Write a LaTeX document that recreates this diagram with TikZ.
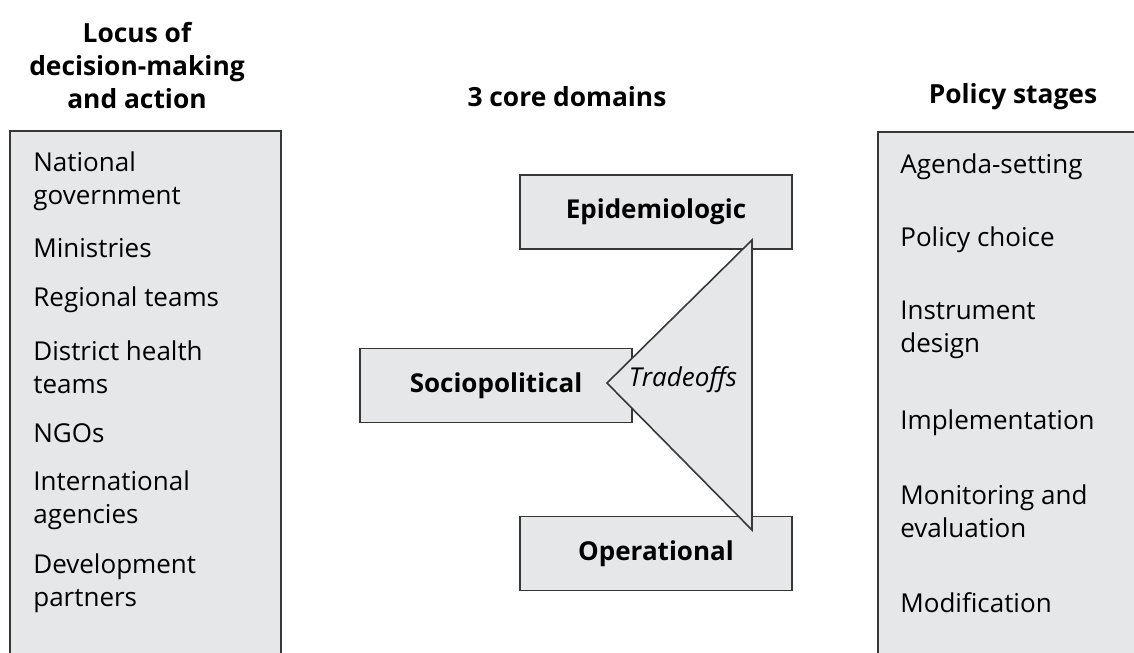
\documentclass[tikz,border=0pt]{standalone}
\usepackage{fontspec}
\setmainfont{Open Sans}
\usepackage{xcolor}
\usepackage{tikz}
\usetikzlibrary{positioning}

\definecolor{boxgray}{RGB}{230,231,232}
\definecolor{edgegray}{RGB}{55,55,55}

\begin{document}
\begin{tikzpicture}[
  x=0.02cm, y=-0.02cm,
  panel/.style={draw=edgegray, line width=0.9pt, fill=boxgray,
                anchor=north west, inner sep=0pt},
  domainbox/.style={draw=edgegray, line width=0.9pt, fill=boxgray,
                 minimum width=5.44cm, minimum height=1.48cm,
                 font=\fontsize{14.8}{17}\selectfont\bfseries},
  head/.style={font=\fontsize{15}{18.8}\selectfont\bfseries, align=center},
  item/.style={anchor=west, align=left, inner sep=0pt,
               font=\fontsize{14.8}{18.8}\selectfont},
]
  \useasboundingbox (0,0) rectangle (1134,653);
  \clip (0,0) rectangle (1134,653);

  % side panels (cut off by the page edge)
  \node[panel, minimum width=5.42cm, minimum height=12cm] (locus) at (9,130) {};
  \node[panel, minimum width=6cm, minimum height=12cm] (stages) at (877,131) {};

  % headings
  \node[head] (locushead) at (137,66) {Locus of\\decision-making\\and action};
  \node[head] (corehead) at (567,97) {3 core domains};
  \node[head] (stagehead) at (1013,97) {Policy stages};

  % locus of decision-making
  \node[item] (natgov) at (33,181.5) {National\\government};
  \node[item] (ministries) at (33,248) {Ministries};
  \node[item] (regional) at (33,300) {Regional teams};
  \node[item] (district) at (33,367.5) {District health\\teams};
  \node[item] (ngos) at (33,433) {NGOs};
  \node[item] (intl) at (33,500) {International\\agencies};
  \node[item] (devpart) at (33,583.5) {Development\\partners};

  % policy stages
  \node[item] (agenda) at (900,167) {Agenda-setting};
  \node[item] (choice) at (900,240) {Policy choice};
  \node[item] (instr) at (900,330) {Instrument\\design};
  \node[item] (implement) at (900,423) {Implementation};
  \node[item] (monitor) at (900,511.5) {Monitoring and\\evaluation};
  \node[item] (modify) at (900,603) {Modification};

  % core domains
  \node[domainbox] (epi) at (656,212) {Epidemiologic};
  \node[domainbox] (socio) at (496,385.5) {Sociopolitical};
  \node[domainbox] (oper) at (656,553.5) {Operational};

  % tradeoff triangle
  \coordinate (ttop) at (752,240);
  \coordinate (tleft) at (607,383);
  \coordinate (tbot) at (752,530);
  \filldraw[draw=edgegray, fill=boxgray, line width=0.9pt]
    (ttop) -- (tleft) -- (tbot) -- cycle;
  \node[font=\fontsize{14.8}{17}\selectfont\itshape] (trade) at (683,380) {Tradeoffs};
\end{tikzpicture}
\end{document}
